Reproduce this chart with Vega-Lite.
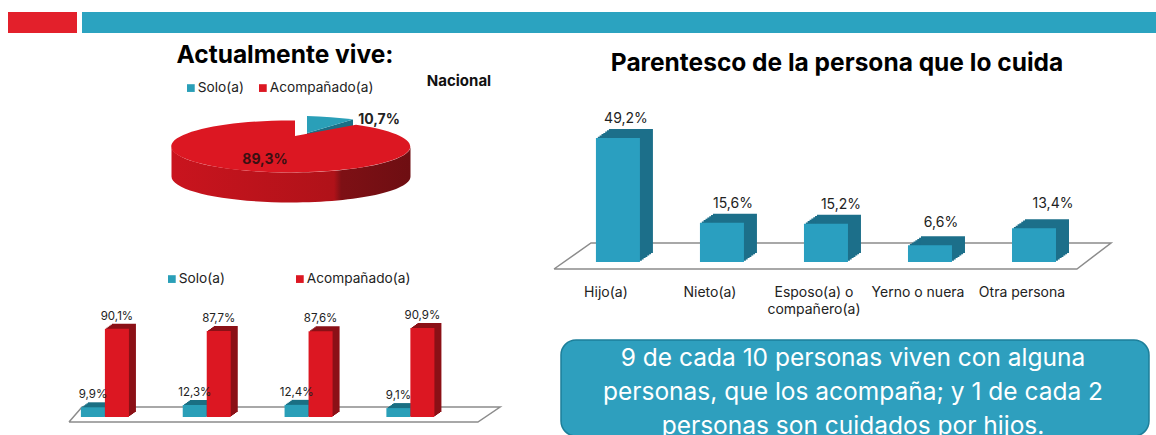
{"$schema":"https://vega.github.io/schema/vega-lite/v6.json","background":"white","padding":{"left":0,"top":12,"right":0,"bottom":0},"config":{"view":{"stroke":null},"font":"Inter","text":{"font":"Inter"}},"spacing":7,"resolve":{"scale":{"color":"independent"},"legend":{"color":"independent"}},"vconcat":[
{"spacing":5,"hconcat":[
{"width":3,"height":21,"data":{"values":[{"franja":"margen"}]},"mark":{"type":"rect","opacity":0}},
{"width":69,"height":21,"data":{"values":[{"franja":"roja"}]},"mark":{"type":"rect","color":"#e3202b"}},
{"width":1074,"height":21,"data":{"values":[{"franja":"azul"}]},"mark":{"type":"rect","color":"#2ba3c0"}}
]},
{"spacing":38,"resolve":{"scale":{"color":"independent"},"legend":{"color":"independent"}},"hconcat":[
{"width":28,"height":10,"data":{"values":[{"franja":"margen"}]},"mark":{"type":"rect","opacity":0}},
{"spacing":12,"resolve":{"scale":{"color":"independent"},"legend":{"color":"independent"}},"vconcat":[
{"width":444,"height":213,"data":{"values":[{"estado":"Solo(a)","pct":10.7,"etiqueta":"10,7%"},{"estado":"Acompañado(a)","pct":89.3,"etiqueta":"89,3%"}]},"layer":[
{"transform":[{"filter":"datum.estado==='Solo(a)'"}],"mark":{"type":"point","filled":true,"size":4,"opacity":1,"color":"#1b6f86","shape":"M16 -13.5 L62 -27 L62 -10 L16 0 Z"}},
{"transform":[{"filter":"datum.estado==='Solo(a)'"}],"mark":{"type":"point","filled":true,"size":4,"opacity":1,"shape":"M16 -13.5 L16 -30.5 A119.5 26 0 0 1 62 -27 Z"},"encoding":{"color":{"field":"estado","type":"nominal","scale":{"domain":["Solo(a)","Acompañado(a)"],"range":["#2a9fb8","#dc1722"]},"legend":{"title":null,"orient":"none","legendX":115,"legendY":41,"direction":"horizontal","symbolType":"square","symbolSize":60,"labelFont":"Inter","labelFontSize":13.7,"labelColor":"#222","labelOffset":0,"columnPadding":12,"symbolOpacity":1}}}},
{"transform":[{"filter":"datum.estado==='Acompañado(a)'"}],"mark":{"type":"point","filled":true,"size":4,"opacity":1,"shape":"M-119.5 0 A119.5 26 0 0 0 119.5 0 L119.5 30 A119.5 26 0 0 1 -119.5 30 Z","color":{"gradient":"linear","x1":0,"y1":0,"x2":1,"y2":0,"stops":[{"offset":0,"color":"#c9141e"},{"offset":0.68,"color":"#b01219"},{"offset":0.71,"color":"#7e1015"},{"offset":1,"color":"#6e0e12"}]}}},
{"transform":[{"filter":"datum.estado==='Acompañado(a)'"}],"mark":{"type":"point","filled":true,"size":4,"opacity":1,"shape":"M4 -10.5 L4 -26 A119.5 26 0 1 0 65 -21.8 Z"},"encoding":{"color":{"field":"estado","type":"nominal"}}},
{"transform":[{"filter":"datum.estado==='Solo(a)'"}],"mark":{"type":"text","fontWeight":"bold","fontSize":14,"color":"#222","dx":88,"dy":-27},"encoding":{"text":{"field":"etiqueta"}}},
{"transform":[{"filter":"datum.estado==='Acompañado(a)'"}],"mark":{"type":"text","fontWeight":"bold","fontSize":14,"color":"#3a1012","dx":-26,"dy":13},"encoding":{"text":{"field":"etiqueta"}}},
{"data":{"values":[{"titulo":"Actualmente vive:"}]},"mark":{"type":"text","fontWeight":"bold","fontSize":24.5,"color":"#000","dx":-6,"dy":-91},"encoding":{"text":{"field":"titulo"}}},
{"data":{"values":[{"ambito":"Nacional"}]},"mark":{"type":"text","fontWeight":"bold","fontSize":15,"color":"#111","dx":168,"dy":-66},"encoding":{"text":{"field":"ambito"}}}
]},
{"width":435,"height":160,"data":{"values":[{"grupo":"G1","estado":"Solo(a)","pct":9.9,"etiqueta":"9,9%"},{"grupo":"G1","estado":"Acompañado(a)","pct":90.1,"etiqueta":"90,1%"},{"grupo":"G2","estado":"Solo(a)","pct":12.3,"etiqueta":"12,3%"},{"grupo":"G2","estado":"Acompañado(a)","pct":87.7,"etiqueta":"87,7%"},{"grupo":"G3","estado":"Solo(a)","pct":12.4,"etiqueta":"12,4%"},{"grupo":"G3","estado":"Acompañado(a)","pct":87.6,"etiqueta":"87,6%"},{"grupo":"G4","estado":"Solo(a)","pct":9.1,"etiqueta":"9,1%"},{"grupo":"G4","estado":"Acompañado(a)","pct":90.9,"etiqueta":"90,9%"}]},"resolve":{"scale":{"x":"independent"}},"layer":[
{"data":{"values":[{"px":0,"py":-5.1,"o":1},{"px":0.94,"py":-5.1,"o":2},{"px":0.991,"py":10.2,"o":3},{"px":0.03,"py":10.2,"o":4},{"px":0,"py":-5.1,"o":5}]},"mark":{"type":"line","color":"#8c8c8c","strokeWidth":1.5},"encoding":{"x":{"field":"px","type":"quantitative","scale":{"domain":[0,1]},"axis":null},"y":{"field":"py","type":"quantitative","scale":{"domain":[-8.16,155.1],"nice":false,"zero":false},"axis":null},"order":{"field":"o"}}},
{"encoding":{"x":{"field":"grupo","type":"nominal","scale":{"type":"band","paddingInner":0.528,"paddingOuter":0.40,"align":0.146},"axis":null},"y":{"field":"pct","type":"quantitative","scale":{"domain":[-8.16,155.1],"nice":false,"zero":false},"axis":null},"y2":{"datum":0}},"layer":[
{"mark":{"type":"bar","color":{"expr":"datum.estado==='Solo(a)'?'#1a6f83':'#8b1016'"},"width":{"band":0.5},"xOffset":{"expr":"(datum.estado==='Solo(a)'?-12:12)+1.4"},"yOffset":-1,"y2Offset":-1}},
{"mark":{"type":"bar","color":{"expr":"datum.estado==='Solo(a)'?'#1a6f83':'#8b1016'"},"width":{"band":0.5},"xOffset":{"expr":"(datum.estado==='Solo(a)'?-12:12)+2.8"},"yOffset":-2,"y2Offset":-2}},
{"mark":{"type":"bar","color":{"expr":"datum.estado==='Solo(a)'?'#1a6f83':'#8b1016'"},"width":{"band":0.5},"xOffset":{"expr":"(datum.estado==='Solo(a)'?-12:12)+4.2"},"yOffset":-3,"y2Offset":-3}},
{"mark":{"type":"bar","color":{"expr":"datum.estado==='Solo(a)'?'#1a6f83':'#8b1016'"},"width":{"band":0.5},"xOffset":{"expr":"(datum.estado==='Solo(a)'?-12:12)+5.6"},"yOffset":-4,"y2Offset":-4}},
{"mark":{"type":"bar","color":{"expr":"datum.estado==='Solo(a)'?'#1a6f83':'#8b1016'"},"width":{"band":0.5},"xOffset":{"expr":"(datum.estado==='Solo(a)'?-12:12)+7"},"yOffset":-5,"y2Offset":-5}}
]},
{"mark":{"type":"bar","width":{"band":0.5},"xOffset":{"expr":"datum.estado==='Solo(a)'?-12:12"}},"encoding":{"x":{"field":"grupo","type":"nominal","scale":{"type":"band","paddingInner":0.528,"paddingOuter":0.40,"align":0.146},"axis":null},"y":{"field":"pct","type":"quantitative","scale":{"domain":[-8.16,155.1],"nice":false,"zero":false},"axis":null},"y2":{"datum":0},"color":{"field":"estado","type":"nominal","scale":{"domain":["Solo(a)","Acompañado(a)"],"range":["#2a9fb8","#dc1722"]},"legend":{"title":null,"orient":"none","legendX":96,"legendY":7,"direction":"horizontal","symbolType":"square","symbolSize":60,"labelFont":"Inter","labelFontSize":13.7,"labelColor":"#222","labelOffset":0,"columnPadding":68,"symbolOpacity":1}}}},
{"mark":{"type":"text","fontSize":11.5,"color":"#222","dy":-12,"xOffset":{"expr":"datum.estado==='Solo(a)'?-12:12"}},"encoding":{"x":{"field":"grupo","type":"nominal","scale":{"type":"band","paddingInner":0.528,"paddingOuter":0.40,"align":0.146},"axis":null},"y":{"field":"pct","type":"quantitative","scale":{"domain":[-8.16,155.1],"nice":false,"zero":false},"axis":null},"text":{"field":"etiqueta"}}}
]}
]},
{"spacing":23,"vconcat":[
{"width":562,"height":229,"data":{"values":[{"parentesco":"Hijo(a)","pct":49.2,"etiqueta":"49,2%"},{"parentesco":"Nieto(a)","pct":15.6,"etiqueta":"15,6%"},{"parentesco":"Esposo(a) o compañero(a)","pct":15.2,"etiqueta":"15,2%"},{"parentesco":"Yerno o nuera","pct":6.6,"etiqueta":"6,6%"},{"parentesco":"Otra persona","pct":13.4,"etiqueta":"13,4%"}]},"resolve":{"scale":{"x":"independent"},"axis":{"x":"independent"}},"layer":[
{"data":{"values":[{"px":0.0036,"py":-2.78,"o":1},{"px":0.934,"py":-2.78,"o":2},{"px":0.9947,"py":7.54,"o":3},{"px":0.0694,"py":7.54,"o":4},{"px":0.0036,"py":-2.78,"o":5}]},"mark":{"type":"line","color":"#8c8c8c","strokeWidth":1.5},"encoding":{"x":{"field":"px","type":"quantitative","scale":{"domain":[0,1]},"axis":null},"y":{"field":"py","type":"quantitative","scale":{"domain":[-2.78,88.1],"nice":false,"zero":false},"axis":null},"order":{"field":"o"}}},
{"encoding":{"x":{"field":"parentesco","type":"nominal","sort":null,"scale":{"type":"band","paddingInner":0.577,"paddingOuter":0.49,"align":0.431},"axis":{"title":null,"domain":false,"ticks":false,"grid":false,"labelAngle":0,"labelPadding":16,"labelOffset":-12,"labelFont":"Inter","labelFontSize":14,"labelColor":"#222","labelLineHeight":17,"labelBaseline":"top","labelLimit":200,"labelExpr":"datum.label==='Esposo(a) o compañero(a)'?['Esposo(a) o','compañero(a)']:datum.label"}},"y":{"field":"pct","type":"quantitative","scale":{"domain":[-2.78,88.1],"nice":false,"zero":false},"axis":null},"y2":{"datum":0}},"layer":[
{"mark":{"type":"bar","color":"#1c6f8a","xOffset":1.9,"x2Offset":1.9,"yOffset":-1.3,"y2Offset":-1.3}},
{"mark":{"type":"bar","color":"#1c6f8a","xOffset":3.7,"x2Offset":3.7,"yOffset":-2.6,"y2Offset":-2.6}},
{"mark":{"type":"bar","color":"#1c6f8a","xOffset":5.6,"x2Offset":5.6,"yOffset":-3.9,"y2Offset":-3.9}},
{"mark":{"type":"bar","color":"#1c6f8a","xOffset":7.4,"x2Offset":7.4,"yOffset":-5.1,"y2Offset":-5.1}},
{"mark":{"type":"bar","color":"#1c6f8a","xOffset":9.3,"x2Offset":9.3,"yOffset":-6.4,"y2Offset":-6.4}},
{"mark":{"type":"bar","color":"#1c6f8a","xOffset":11.1,"x2Offset":11.1,"yOffset":-7.7,"y2Offset":-7.7}},
{"mark":{"type":"bar","color":"#1c6f8a","xOffset":13,"x2Offset":13,"yOffset":-9,"y2Offset":-9}},
{"mark":{"type":"bar","color":"#2a9fc0"}},
{"mark":{"type":"text","fontSize":14,"color":"#222","dx":{"expr":"datum.parentesco==='Otra persona'?19:datum.parentesco==='Hijo(a)'?8:datum.parentesco==='Esposo(a) o compañero(a)'?15:11"},"dy":{"expr":"datum.parentesco==='Otra persona'?-24:datum.parentesco==='Yerno o nuera'?-22:-19"}},"encoding":{"text":{"field":"etiqueta"},"y2":null}}
]},
{"data":{"values":[{"titulo":"Parentesco de la persona que lo cuida"}]},"mark":{"type":"text","fontWeight":"bold","fontSize":24.5,"color":"#000","dx":4,"dy":-91},"encoding":{"text":{"field":"titulo"}}}
]},
{"spacing":5,"hconcat":[
{"width":3,"height":10,"data":{"values":[{"franja":"margen"}]},"mark":{"type":"rect","opacity":0}},
{"width":588,"height":96,"data":{"values":[{"mensaje":"9 de cada 10 personas viven con alguna|personas, que los acompaña; y 1 de cada 2|personas son cuidados por hijos."}]},"layer":[
{"mark":{"type":"rect","color":"#2e9fbe","stroke":"#1d7f9a","strokeWidth":1.5,"cornerRadius":15}},
{"mark":{"type":"text","fontSize":24.5,"color":"white","lineBreak":"|","lineHeight":34,"dx":-2,"dy":-29},"encoding":{"text":{"field":"mensaje"}}}
]}
]}
]}
]}
]}
